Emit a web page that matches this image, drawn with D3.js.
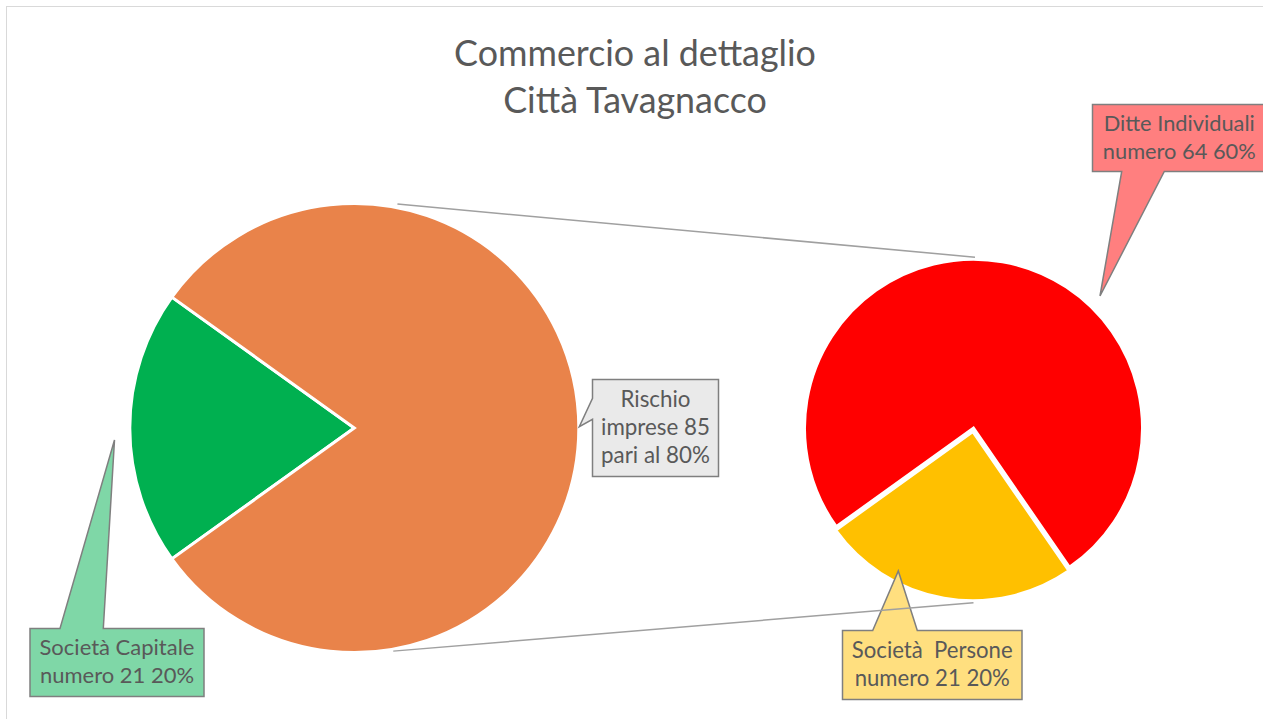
<!DOCTYPE html>
<html><head><meta charset="utf-8">
<script src="https://cdn.jsdelivr.net/npm/d3@7"></script>
<style>html,body{margin:0;padding:0;background:#fff;overflow:hidden}</style>
</head><body><svg id="c" width="1263" height="719"></svg>
<script>
// ---- data ----
const titleLines = ["Commercio al dettaglio", "Città Tavagnacco"];
const categories = ["Ditte Individuali", "Società Persone", "Società Capitale"];
const counts = [64, 21, 21];
const percents = [60, 20, 20];
const groupName = "Rischio imprese";
const groupCount = 85;
const groupPercent = 80;
const labelLines = [
  ["Ditte Individuali", "numero 64 60%"],
  ["Società  Persone", "numero 21 20%"],
  ["Società Capitale", "numero 21 20%"]
];
const groupLabelLines = ["Rischio", "imprese 85", "pari al 80%"];

// ---- styles ----
const colors = ["#FF0000", "#FFC000", "#00B050"];
const groupColor = "#E9834A";
const labelFills = ["#FF7F7F", "#FFDF7F", "#7FD7A7"];
const groupLabelFill = "#EAEAEA";
const textColor = "#595959";
const font = "Lato, 'Open Sans', sans-serif";

const svg = d3.select("#c");
svg.append("rect").attr("x", 6.5).attr("y", 6.5).attr("width", 1400).attr("height", 900)
  .attr("fill", "#fff").attr("stroke", "#D9D9D9").attr("stroke-width", 1);

// ---- geometry ----
const L = {cx: 354.3, cy: 428, r: 224.5};
const R = {cx: 973.5, cy: 428.2, r: 169, explode: 3.5};

const primary = [
  {name: categories[2], value: counts[2], color: colors[2]},
  {name: groupName, value: groupCount, color: groupColor}
];
const secondary = [
  {name: categories[0], value: counts[0], color: colors[0]},
  {name: categories[1], value: counts[1], color: colors[1]}
];
const total = d3.sum(primary, d => d.value);
const start = 1.5 * Math.PI - (primary[0].value / total) * Math.PI;

const pie = d3.pie().sort(null).value(d => d.value).startAngle(start).endAngle(start + 2 * Math.PI);

// connector lines
const pt = (c, ang, dist) => [c.cx + dist * Math.sin(ang), c.cy - dist * Math.cos(ang)];
const deg = Math.PI / 180;
const conn = [
  [pt(L, 10.9 * deg, L.r + 3.5), pt(R, 0.5 * deg, R.r + 2)],
  [pt(L, 170.1 * deg, L.r + 2), pt(R, 180 * deg, R.r + 2 + R.explode)]
];

// left pie
const arcL = d3.arc().innerRadius(0).outerRadius(L.r);
svg.append("g").attr("transform", `translate(${L.cx},${L.cy})`)
  .selectAll("path").data(pie(primary)).join("path")
  .attr("d", arcL).attr("fill", d => d.data.color)
  .attr("stroke", "#fff").attr("stroke-width", 3);

// right pie
const arcR = d3.arc().innerRadius(0).outerRadius(R.r);
svg.append("g").attr("transform", `translate(${R.cx},${R.cy})`)
  .selectAll("path").data(pie(secondary)).join("path")
  .attr("d", arcR).attr("fill", d => d.data.color)
  .attr("stroke", "#fff").attr("stroke-width", 3)
  .attr("transform", (d, i) => {
    if (i === 0) return null;
    const m = (d.startAngle + d.endAngle) / 2;
    return `translate(${R.explode * Math.sin(m)},${-R.explode * Math.cos(m)})`;
  });

// ---- title ----
const title = svg.append("g");
const tl = title.selectAll("text").data(titleLines).join("text")
  .attr("x", 635).attr("y", (d, i) => 66 + i * 46.5)
  .attr("text-anchor", "middle").attr("fill", textColor)
  .style("font-family", font).style("font-size", "30px").text(d => d);
{
  const w = tl.nodes()[0].getComputedTextLength();
  tl.style("font-size", (30 * 362 / w) + "px");
}

// ---- callouts ----
function calloutPath(b, p) {
  const {x0, y0, x1, y1} = b;
  if (p.side === "bottom")
    return `M${x0},${y0}H${x1}V${y1}H${p.b}L${p.tx},${p.ty}L${p.a},${y1}H${x0}Z`;
  if (p.side === "top")
    return `M${x0},${y0}H${p.a}L${p.tx},${p.ty}L${p.b},${y0}H${x1}V${y1}H${x0}Z`;
  return `M${x0},${y0}H${x1}V${y1}H${x0}V${p.b}L${p.tx},${p.ty}L${x0},${p.a}Z`;
}
const callouts = [
  {lines: labelLines[0], fill: labelFills[0], target: 153,
   box: {x0: 1092.5, y0: 104.5, x1: 1266, y1: 171.5},
   ptr: {side: "bottom", a: 1121.7, b: 1164.3, tx: 1100, ty: 296}},
  {lines: labelLines[1], fill: labelFills[1], target: 161,
   box: {x0: 842.5, y0: 630.5, x1: 1022, y1: 699.5},
   ptr: {side: "top", a: 872.7, b: 917.3, tx: 898.3, ty: 571}},
  {lines: labelLines[2], fill: labelFills[2], target: 155,
   box: {x0: 30, y0: 628.5, x1: 204, y1: 696.5},
   ptr: {side: "top", a: 60, b: 103.3, tx: 114.5, ty: 440}},
  {lines: groupLabelLines, fill: groupLabelFill, target: 109,
   box: {x0: 592.5, y0: 379.5, x1: 718.5, y1: 476.5},
   ptr: {side: "left", a: 398.3, b: 419.3, tx: 579.3, ty: 426.7}}
];
const lineH = 28.2;
callouts.forEach(c => {
  const g = svg.append("g");
  g.append("path").attr("d", calloutPath(c.box, c.ptr))
    .attr("fill", c.fill).attr("stroke", "#7F7F7F").attr("stroke-width", 1.5)
    .attr("stroke-linejoin", "miter");
  const cx = (c.box.x0 + c.box.x1) / 2;
  const cy = (c.box.y0 + c.box.y1) / 2;
  const n = c.lines.length;
  const t = g.selectAll("text").data(c.lines).join("text")
    .attr("x", cx).attr("y", (d, i) => cy + (i - (n - 1) / 2) * lineH + 6.8)
    .attr("text-anchor", "middle").attr("fill", textColor)
    .style("font-family", font).style("font-size", "20px").style("white-space", "pre")
    .text(d => d);
  const w = d3.max(t.nodes(), nd => nd.getComputedTextLength());
  t.style("font-size", (20 * c.target / w) + "px");
});

// connectors on top
svg.append("g").selectAll("line").data(conn).join("line")
  .attr("x1", d => d[0][0]).attr("y1", d => d[0][1])
  .attr("x2", d => d[1][0]).attr("y2", d => d[1][1])
  .attr("stroke", "#A0A0A0").attr("stroke-width", 1.5);
</script></body></html>
